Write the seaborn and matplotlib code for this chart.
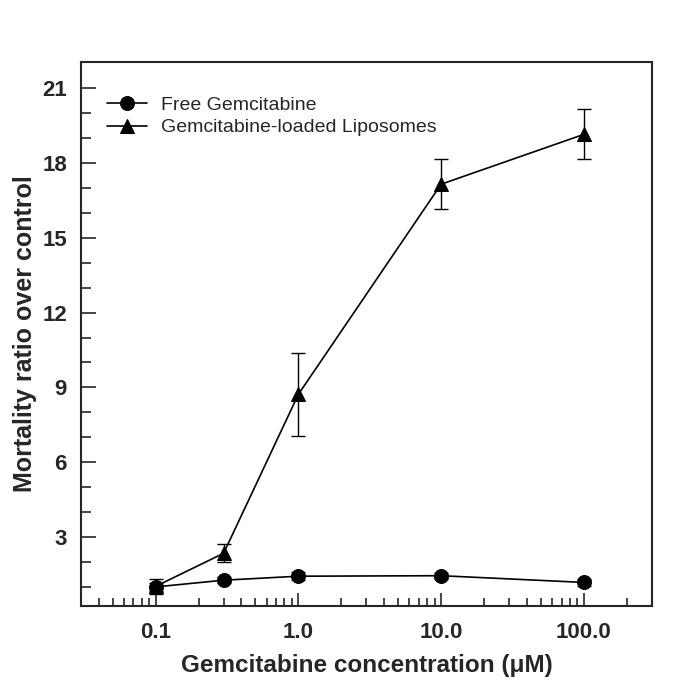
import numpy as np
import pandas as pd
import matplotlib
matplotlib.use("Agg")
import matplotlib.pyplot as plt
from matplotlib.ticker import FixedLocator, FixedFormatter, LogLocator, NullFormatter
import seaborn as sns

# Data
conc = [0.1, 0.3, 1.0, 10.0, 100.0]
free_mean = [1.0, 1.27, 1.43, 1.45, 1.18]
free_err = [0.15, 0.12, 0.15, 0.12, 0.15]
lipo_mean = [1.02, 2.35, 8.72, 17.15, 19.15]
lipo_err = [0.3, 0.36, 1.66, 1.0, 1.0]

xtick_vals = [0.1, 1.0, 10.0, 100.0]
xtick_labels = ["0.1", "1.0", "10.0", "100.0"]
ytick_major = [3, 6, 9, 12, 15, 18, 21]
ytick_minor = list(range(1, 22))

sns.set_style("ticks")
plt.rcParams['font.family'] = ['Liberation Sans', 'DejaVu Sans']

df = pd.DataFrame({
    "conc": conc * 2,
    "ratio": free_mean + lipo_mean,
    "group": ["Free Gemcitabine"] * len(conc) + ["Gemcitabine-loaded Liposomes"] * len(conc),
})

fig = plt.figure(figsize=(6.85, 6.89), dpi=100)
ax = fig.add_axes([0.118, 0.121, 0.834, 0.789])

sns.lineplot(data=df, x="conc", y="ratio", style="group", markers=["o", "^"],
             dashes=False, color="black", markersize=10, markeredgecolor="black",
             linewidth=1.2, ax=ax)
# free gemcitabine circles sit on top of the triangles
ax.lines[0].set_zorder(4)

ax.errorbar(conc, free_mean, yerr=free_err, fmt="none", ecolor="black",
            elinewidth=1.0, capsize=4.7, capthick=1.0)
ax.errorbar(conc, lipo_mean, yerr=lipo_err, fmt="none", ecolor="black",
            elinewidth=1.0, capsize=4.7, capthick=1.0)

ax.set_xscale("log")
ax.set_xlim(0.03, 300)
ax.set_ylim(0.25, 22.05)

ax.xaxis.set_major_locator(FixedLocator(xtick_vals))
ax.xaxis.set_major_formatter(FixedFormatter(xtick_labels))
ax.xaxis.set_minor_locator(LogLocator(base=10, subs=np.arange(2, 10), numticks=20))
ax.xaxis.set_minor_formatter(NullFormatter())

ax.yaxis.set_major_locator(FixedLocator(ytick_major))
ax.yaxis.set_minor_locator(FixedLocator(ytick_minor))

ax.tick_params(axis="x", which="major", direction="in", length=9.5, width=1.2,
               pad=12, labelsize=16)
ax.tick_params(axis="x", which="minor", direction="in", length=6, width=1.2)
ax.tick_params(axis="y", which="major", direction="in", length=10.8, width=1.2,
               pad=10, labelsize=16)
ax.tick_params(axis="y", which="minor", direction="in", length=7.2, width=1.2)
for lab in ax.get_xticklabels() + ax.get_yticklabels():
    lab.set_fontweight("bold")

for s in ax.spines.values():
    s.set_linewidth(1.5)
    s.set_visible(True)

ax.set_xlabel("Gemcitabine concentration (μM)", fontsize=17.5, fontweight="bold", labelpad=8)
ax.set_ylabel("Mortality ratio over control", fontsize=18, fontweight="bold", labelpad=4)

leg = ax.legend(loc="upper left", frameon=False, fontsize=14, handlelength=2.1,
                bbox_to_anchor=(0.0315, 0.951), borderaxespad=0,
                labelspacing=0.24, handletextpad=0.72)
leg.set_title(None)

fig.savefig("out.png", dpi=100)
